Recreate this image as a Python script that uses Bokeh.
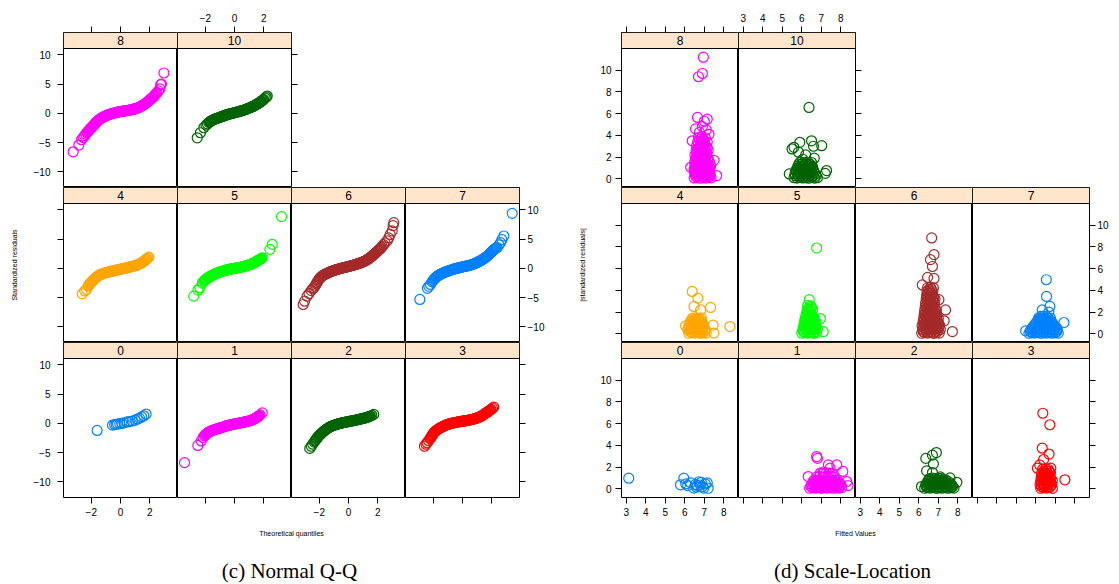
from bokeh.plotting import figure
from bokeh.models import Range1d, LinearAxis, FixedTicker, BoxAnnotation, Label, Spacer
from bokeh.layouts import row, column
from bokeh.embed import file_html
from bokeh.resources import INLINE
from bokeh.core.properties import value

# ---------------- data ----------------
PANEL_KEYS = ["8", "10", "4", "5", "6", "7", "0", "1", "2", "3"]
PANEL_COLORS = {"0": "#0080ff", "1": "#ff00ff", "2": "#006400", "3": "#ff0000", "4": "#ffa500",
                "5": "#00ff00", "6": "#a52a2a", "7": "#0080ff", "8": "#ff00ff", "10": "#006400"}

QQ_X_TICKS = [-2, 0, 2]
QQ_Y_TICKS = [-10, -5, 0, 5, 10]
RS_X_TICKS = [3, 4, 5, 6, 7, 8]
RS_Y_TICKS = [0, 2, 4, 6, 8, 10]

# Normal Q-Q: (theoretical quantile, standardized residual)
QQ_8 = [(-3.24,-6.56),(-2.85,-5.4),(-2.67,-4.5),(-2.55,-4.1),(-2.45,-3.8),(-2.38,-3.55),(-2.3,-3.3),(-2.25,-3.15),
        (-2.2,-3.0),(-2.15,-2.85),(-2.1,-2.7),(-2.05,-2.57),(-2.0,-2.45),(-1.95,-2.32),(-1.9,-2.2),(-1.85,-2.07),
        (-1.8,-1.95),(-1.75,-1.8),(-1.7,-1.65),(-1.65,-1.5),(-1.6,-1.35),(-1.55,-1.25),(-1.5,-1.15),(-1.45,-1.05),
        (-1.4,-0.95),(-1.35,-0.87),(-1.3,-0.8),(-1.25,-0.72),(-1.2,-0.65),(-1.15,-0.57),(-1.1,-0.5),(-1.05,-0.45),
        (-1.0,-0.4),(-0.95,-0.35),(-0.9,-0.3),(-0.85,-0.25),(-0.8,-0.2),(-0.75,-0.16),(-0.7,-0.12),(-0.65,-0.08),
        (-0.6,-0.04),(-0.55,0.0),(-0.5,0.03),(-0.45,0.07),(-0.4,0.1),(-0.35,0.13),(-0.3,0.16),(-0.25,0.19),
        (-0.2,0.22),(-0.15,0.25),(-0.1,0.27),(-0.05,0.3),(0.0,0.32),(0.05,0.34),(0.1,0.36),(0.15,0.38),(0.2,0.4),
        (0.25,0.42),(0.3,0.44),(0.35,0.46),(0.4,0.47),(0.45,0.49),(0.5,0.5),(0.55,0.52),(0.6,0.55),(0.65,0.57),
        (0.7,0.6),(0.75,0.63),(0.8,0.66),(0.85,0.69),(0.9,0.72),(0.95,0.76),(1.0,0.8),(1.05,0.84),(1.1,0.88),
        (1.15,0.92),(1.2,0.97),(1.25,1.02),(1.3,1.08),(1.35,1.14),(1.4,1.2),(1.45,1.27),(1.5,1.35),(1.55,1.42),
        (1.6,1.5),(1.65,1.59),(1.7,1.68),(1.75,1.78),(1.8,1.88),(1.85,1.98),(1.9,2.08),(1.95,2.19),(2.0,2.3),
        (2.05,2.4),(2.1,2.5),(2.15,2.61),(2.2,2.72),(2.25,2.85),(2.3,2.98),(2.35,3.11),(2.4,3.25),(2.45,3.4),
        (2.5,3.55),(2.6,3.85),(2.7,4.2),(2.75,4.9),(2.8,5.0),(2.97,6.9)]
QQ_10 = [(-2.55,-4.17),(-2.33,-3.3),(-2.1,-2.45),(-1.95,-2.0),(-1.85,-1.8),(-1.75,-1.55),(-1.7,-1.45),(-1.65,-1.37),
         (-1.6,-1.3),(-1.55,-1.22),(-1.5,-1.15),(-1.45,-1.08),(-1.4,-1.02),(-1.35,-0.97),(-1.3,-0.92),(-1.25,-0.88),
         (-1.2,-0.84),(-1.15,-0.8),(-1.1,-0.75),(-1.05,-0.7),(-1.0,-0.66),(-0.95,-0.61),(-0.9,-0.57),(-0.85,-0.52),
         (-0.8,-0.48),(-0.75,-0.43),(-0.7,-0.39),(-0.65,-0.34),(-0.6,-0.3),(-0.55,-0.26),(-0.5,-0.22),(-0.45,-0.18),
         (-0.4,-0.14),(-0.35,-0.1),(-0.3,-0.07),(-0.25,-0.03),(-0.2,0.0),(-0.15,0.03),(-0.1,0.06),(-0.05,0.09),
         (0.0,0.12),(0.05,0.15),(0.1,0.18),(0.15,0.21),(0.2,0.25),(0.25,0.28),(0.3,0.32),(0.35,0.35),(0.4,0.39),
         (0.45,0.42),(0.5,0.46),(0.55,0.5),(0.6,0.54),(0.65,0.58),(0.7,0.62),(0.75,0.67),(0.8,0.72),(0.85,0.77),
         (0.9,0.82),(0.95,0.87),(1.0,0.92),(1.05,0.97),(1.1,1.02),(1.15,1.07),(1.2,1.13),(1.25,1.19),(1.3,1.25),
         (1.35,1.31),(1.4,1.38),(1.45,1.45),(1.5,1.52),(1.55,1.59),(1.6,1.67),(1.65,1.75),(1.7,1.83),(1.75,1.91),
         (1.8,2.0),(1.85,2.1),(1.9,2.2),(1.95,2.3),(2.0,2.4),(2.1,2.62),(2.17,2.8),(2.24,2.96)]
QQ_4 = [(-2.62,-4.35),(-2.45,-3.85),(-2.33,-3.6),(-2.2,-3.0),(-2.15,-2.82),(-2.1,-2.65),(-2.05,-2.5),(-2.0,-2.35),
        (-1.95,-2.22),(-1.9,-2.1),(-1.85,-1.97),(-1.8,-1.85),(-1.75,-1.73),(-1.7,-1.62),(-1.65,-1.52),(-1.6,-1.42),
        (-1.55,-1.33),(-1.5,-1.24),(-1.45,-1.16),(-1.4,-1.08),(-1.35,-1.03),(-1.3,-0.98),(-1.25,-0.93),(-1.2,-0.89),
        (-1.15,-0.85),(-1.1,-0.81),(-1.05,-0.77),(-1.0,-0.74),(-0.95,-0.7),(-0.9,-0.67),(-0.85,-0.63),(-0.8,-0.6),
        (-0.75,-0.57),(-0.7,-0.54),(-0.65,-0.51),(-0.6,-0.48),(-0.55,-0.45),(-0.5,-0.42),(-0.45,-0.4),(-0.4,-0.37),
        (-0.35,-0.34),(-0.3,-0.31),(-0.25,-0.28),(-0.2,-0.26),(-0.15,-0.23),(-0.1,-0.2),(-0.05,-0.17),(0.0,-0.14),
        (0.05,-0.11),(0.1,-0.08),(0.15,-0.05),(0.2,-0.02),(0.25,0.01),(0.3,0.04),(0.35,0.07),(0.4,0.1),(0.45,0.13),
        (0.5,0.16),(0.55,0.19),(0.6,0.22),(0.65,0.25),(0.7,0.28),(0.75,0.31),(0.8,0.34),(0.85,0.37),(0.9,0.4),
        (0.95,0.44),(1.0,0.48),(1.05,0.52),(1.1,0.56),(1.15,0.61),(1.2,0.66),(1.25,0.71),(1.3,0.77),(1.35,0.83),
        (1.4,0.89),(1.45,0.97),(1.5,1.05),(1.55,1.13),(1.6,1.22),(1.65,1.32),(1.7,1.42),(1.75,1.52),(1.8,1.62),
        (1.88,1.8),(1.94,1.93)]
QQ_5 = [(-2.79,-4.74),(-2.5,-3.7),(-2.37,-3.3),(-2.2,-2.5),(-2.1,-2.2),(-2.05,-2.06),(-2.0,-1.95),(-1.95,-1.85),
        (-1.9,-1.75),(-1.85,-1.65),(-1.8,-1.57),(-1.75,-1.5),(-1.7,-1.42),(-1.65,-1.35),(-1.6,-1.27),(-1.55,-1.2),
        (-1.5,-1.13),(-1.45,-1.06),(-1.4,-1.01),(-1.35,-0.95),(-1.3,-0.9),(-1.25,-0.85),(-1.2,-0.8),(-1.15,-0.75),
        (-1.1,-0.7),(-1.05,-0.65),(-1.0,-0.61),(-0.95,-0.57),(-0.9,-0.53),(-0.85,-0.49),(-0.8,-0.45),(-0.75,-0.41),
        (-0.7,-0.37),(-0.65,-0.33),(-0.6,-0.3),(-0.55,-0.27),(-0.5,-0.24),(-0.45,-0.21),(-0.4,-0.18),(-0.35,-0.15),
        (-0.3,-0.12),(-0.25,-0.09),(-0.2,-0.07),(-0.15,-0.05),(-0.1,-0.03),(-0.05,-0.01),(0.0,0.0),(0.05,0.03),
        (0.1,0.05),(0.15,0.08),(0.2,0.1),(0.25,0.13),(0.3,0.15),(0.35,0.18),(0.4,0.2),(0.45,0.23),(0.5,0.26),
        (0.55,0.29),(0.6,0.32),(0.65,0.35),(0.7,0.38),(0.75,0.41),(0.8,0.45),(0.85,0.48),(0.9,0.52),(0.95,0.56),
        (1.0,0.6),(1.05,0.65),(1.1,0.7),(1.15,0.76),(1.2,0.82),(1.25,0.88),(1.32,0.96),(1.36,1.01),(1.4,1.07),
        (1.45,1.13),(1.5,1.2),(1.55,1.27),(1.6,1.35),(1.65,1.42),(1.7,1.5),(1.75,1.57),(1.8,1.65),(1.85,1.72),
        (1.9,1.8),(2.42,3.25),(2.58,4.1),(3.22,8.84)]
QQ_6 = [(-3.1,-6.16),(-3.0,-5.6),(-2.83,-4.74),(-2.7,-4.3),(-2.55,-3.8),(-2.45,-3.5),(-2.37,-3.3),(-2.3,-3.05),
        (-2.25,-2.85),(-2.2,-2.62),(-2.15,-2.4),(-2.1,-2.2),(-2.05,-2.0),(-2.0,-1.82),(-1.95,-1.65),(-1.9,-1.52),
        (-1.85,-1.4),(-1.8,-1.3),(-1.75,-1.22),(-1.7,-1.14),(-1.65,-1.06),(-1.6,-0.99),(-1.55,-0.93),(-1.5,-0.87),
        (-1.45,-0.81),(-1.4,-0.75),(-1.35,-0.7),(-1.3,-0.64),(-1.25,-0.59),(-1.2,-0.54),(-1.15,-0.49),(-1.1,-0.44),
        (-1.05,-0.4),(-1.0,-0.35),(-0.95,-0.31),(-0.9,-0.27),(-0.85,-0.23),(-0.8,-0.19),(-0.75,-0.15),(-0.7,-0.11),
        (-0.65,-0.08),(-0.6,-0.04),(-0.55,-0.01),(-0.5,0.03),(-0.45,0.06),(-0.4,0.09),(-0.35,0.12),(-0.3,0.15),
        (-0.25,0.18),(-0.2,0.21),(-0.15,0.24),(-0.1,0.27),(-0.05,0.3),(0.0,0.33),(0.05,0.36),(0.1,0.4),(0.15,0.43),
        (0.2,0.46),(0.25,0.5),(0.3,0.53),(0.35,0.57),(0.4,0.6),(0.45,0.64),(0.5,0.68),(0.55,0.72),(0.6,0.76),
        (0.65,0.8),(0.7,0.84),(0.75,0.89),(0.8,0.93),(0.85,0.98),(0.9,1.03),(0.95,1.08),(1.0,1.13),(1.05,1.19),
        (1.1,1.25),(1.15,1.31),(1.2,1.38),(1.25,1.45),(1.3,1.53),(1.35,1.61),(1.4,1.7),(1.45,1.79),(1.5,1.88),
        (1.55,1.98),(1.6,2.08),(1.65,2.19),(1.7,2.3),(1.75,2.41),(1.8,2.52),(1.85,2.63),(1.9,2.75),(1.95,2.86),
        (2.0,2.98),(2.05,3.09),(2.1,3.2),(2.15,3.3),(2.19,3.4),(2.25,3.58),(2.3,3.75),(2.4,4.05),(2.5,4.35),
        (2.65,4.7),(2.75,5.2),(2.85,5.8),(2.99,6.4),(3.05,7.3),(3.1,7.8)]
QQ_7 = [(-2.92,-5.3),(-2.4,-3.4),(-2.3,-3.05),(-2.19,-2.74),(-2.08,-2.3),(-2.02,-2.08),(-1.96,-1.88),(-1.9,-1.73),
        (-1.85,-1.6),(-1.8,-1.49),(-1.75,-1.38),(-1.7,-1.29),(-1.65,-1.2),(-1.6,-1.12),(-1.55,-1.05),(-1.5,-0.98),
        (-1.45,-0.92),(-1.4,-0.86),(-1.35,-0.8),(-1.3,-0.75),(-1.25,-0.7),(-1.2,-0.65),(-1.15,-0.6),(-1.1,-0.55),
        (-1.05,-0.5),(-1.0,-0.45),(-0.95,-0.41),(-0.9,-0.36),(-0.85,-0.32),(-0.8,-0.28),(-0.75,-0.24),(-0.7,-0.2),
        (-0.65,-0.16),(-0.6,-0.12),(-0.55,-0.09),(-0.5,-0.05),(-0.45,-0.02),(-0.4,0.01),(-0.35,0.05),(-0.3,0.08),
        (-0.25,0.11),(-0.2,0.14),(-0.15,0.17),(-0.1,0.2),(-0.05,0.23),(0.0,0.26),(0.05,0.29),(0.1,0.31),(0.15,0.34),
        (0.2,0.36),(0.25,0.39),(0.3,0.42),(0.35,0.45),(0.4,0.48),(0.45,0.51),(0.5,0.54),(0.55,0.58),(0.6,0.62),
        (0.65,0.66),(0.7,0.7),(0.75,0.75),(0.8,0.8),(0.85,0.85),(0.9,0.9),(0.95,0.96),(1.0,1.02),(1.05,1.08),
        (1.1,1.14),(1.15,1.2),(1.2,1.27),(1.25,1.35),(1.3,1.42),(1.35,1.5),(1.4,1.57),(1.45,1.65),(1.5,1.73),
        (1.55,1.82),(1.6,1.92),(1.65,2.02),(1.69,2.1),(1.75,2.22),(1.8,2.35),(1.85,2.47),(1.9,2.6),(1.95,2.72),
        (2.0,2.85),(2.05,2.97),(2.1,3.1),(2.15,3.2),(2.2,3.3),(2.25,3.4),(2.3,3.5),(2.37,3.55),(2.5,4.0),(2.6,4.4),
        (2.7,4.9),(2.83,5.53),(3.4,9.4)]
QQ_0 = [(-1.6,-1.2),(-0.55,-0.3),(-0.4,-0.2),(-0.3,-0.15),(-0.2,-0.1),(-0.05,-0.05),(0.1,0.0),(0.25,0.1),
        (0.45,0.25),(0.6,0.3),(0.8,0.4),(1.0,0.55),(1.15,0.75),(1.3,0.9),(1.45,1.1),(1.6,1.3),(1.75,1.6)]
QQ_1 = [(-3.42,-6.7),(-2.51,-3.76),(-2.28,-3.0),(-2.15,-2.4),(-2.05,-2.1),(-2.0,-1.97),(-1.95,-1.85),(-1.9,-1.73),
        (-1.85,-1.63),(-1.8,-1.54),(-1.75,-1.47),(-1.7,-1.41),(-1.65,-1.35),(-1.6,-1.29),(-1.55,-1.24),(-1.5,-1.19),
        (-1.45,-1.14),(-1.4,-1.1),(-1.35,-1.06),(-1.3,-1.02),(-1.25,-0.98),(-1.2,-0.94),(-1.15,-0.9),(-1.1,-0.86),
        (-1.05,-0.82),(-1.0,-0.78),(-0.95,-0.74),(-0.9,-0.7),(-0.85,-0.66),(-0.8,-0.62),(-0.75,-0.58),(-0.7,-0.54),
        (-0.65,-0.5),(-0.6,-0.46),(-0.55,-0.42),(-0.5,-0.39),(-0.45,-0.35),(-0.4,-0.32),(-0.35,-0.29),(-0.3,-0.26),
        (-0.25,-0.23),(-0.2,-0.2),(-0.15,-0.18),(-0.1,-0.15),(-0.05,-0.13),(0.0,-0.1),(0.05,-0.08),(0.1,-0.05),
        (0.15,-0.03),(0.2,0.0),(0.25,0.02),(0.3,0.05),(0.35,0.07),(0.4,0.1),(0.45,0.12),(0.5,0.15),(0.55,0.17),
        (0.6,0.2),(0.65,0.22),(0.7,0.25),(0.75,0.28),(0.8,0.31),(0.85,0.34),(0.9,0.37),(0.95,0.4),(1.0,0.43),
        (1.05,0.46),(1.1,0.5),(1.15,0.55),(1.2,0.6),(1.25,0.65),(1.3,0.71),(1.35,0.78),(1.4,0.85),(1.45,0.92),
        (1.5,1.0),(1.55,1.07),(1.6,1.16),(1.65,1.25),(1.7,1.35),(1.75,1.45),(1.9,1.8)]
QQ_2 = [(-2.65,-4.27),(-2.55,-3.9),(-2.45,-3.55),(-2.35,-3.2),(-2.3,-3.02),(-2.25,-2.85),(-2.2,-2.67),(-2.15,-2.5),
        (-2.1,-2.35),(-2.05,-2.2),(-2.0,-2.07),(-1.95,-1.95),(-1.9,-1.83),(-1.85,-1.7),(-1.8,-1.58),(-1.75,-1.47),
        (-1.7,-1.36),(-1.65,-1.26),(-1.6,-1.16),(-1.55,-1.06),(-1.5,-0.97),(-1.45,-0.88),(-1.4,-0.8),(-1.35,-0.72),
        (-1.3,-0.65),(-1.25,-0.58),(-1.2,-0.52),(-1.15,-0.46),(-1.1,-0.41),(-1.05,-0.36),(-1.0,-0.31),(-0.95,-0.27),
        (-0.9,-0.23),(-0.85,-0.19),(-0.8,-0.15),(-0.75,-0.11),(-0.7,-0.08),(-0.65,-0.04),(-0.6,-0.01),(-0.55,0.02),
        (-0.5,0.05),(-0.45,0.08),(-0.4,0.11),(-0.35,0.14),(-0.3,0.17),(-0.25,0.19),(-0.2,0.22),(-0.15,0.24),
        (-0.1,0.27),(-0.05,0.29),(0.0,0.32),(0.05,0.34),(0.1,0.37),(0.15,0.39),(0.2,0.42),(0.25,0.44),(0.3,0.47),
        (0.35,0.49),(0.4,0.52),(0.45,0.54),(0.5,0.57),(0.55,0.59),(0.6,0.62),(0.65,0.65),(0.7,0.68),(0.75,0.71),
        (0.8,0.74),(0.85,0.77),(0.9,0.8),(0.95,0.83),(1.0,0.86),(1.05,0.89),(1.1,0.92),(1.15,0.96),(1.2,1.0),
        (1.25,1.04),(1.3,1.08),(1.35,1.12),(1.4,1.16),(1.45,1.21),(1.5,1.26),(1.6,1.38),(1.73,1.54)]
QQ_3 = [(-2.6,-3.9),(-2.5,-3.55),(-2.42,-3.3),(-2.32,-2.95),(-2.22,-2.6),(-2.17,-2.42),(-2.12,-2.25),(-2.08,-2.07),
        (-2.04,-1.9),(-2.0,-1.75),(-1.96,-1.6),(-1.91,-1.47),(-1.86,-1.35),(-1.81,-1.25),(-1.76,-1.15),(-1.71,-1.06),
        (-1.66,-0.97),(-1.61,-0.89),(-1.56,-0.82),(-1.51,-0.75),(-1.46,-0.68),(-1.41,-0.62),(-1.36,-0.56),
        (-1.31,-0.5),(-1.26,-0.43),(-1.21,-0.37),(-1.16,-0.3),(-1.1,-0.25),(-1.05,-0.2),(-1.0,-0.16),(-0.95,-0.12),
        (-0.9,-0.08),(-0.85,-0.05),(-0.8,-0.01),(-0.75,0.02),(-0.7,0.05),(-0.65,0.08),(-0.6,0.1),(-0.55,0.13),
        (-0.5,0.15),(-0.45,0.18),(-0.4,0.2),(-0.35,0.23),(-0.3,0.25),(-0.25,0.28),(-0.2,0.3),(-0.15,0.32),
        (-0.1,0.34),(-0.05,0.36),(0.0,0.38),(0.05,0.4),(0.1,0.42),(0.15,0.44),(0.2,0.46),(0.25,0.48),(0.3,0.5),
        (0.35,0.52),(0.4,0.55),(0.45,0.57),(0.5,0.6),(0.55,0.62),(0.6,0.65),(0.65,0.68),(0.7,0.71),(0.75,0.74),
        (0.8,0.78),(0.85,0.81),(0.9,0.85),(0.95,0.89),(1.0,0.94),(1.05,0.98),(1.1,1.03),(1.15,1.08),(1.2,1.14),
        (1.25,1.2),(1.3,1.27),(1.35,1.35),(1.4,1.44),(1.46,1.54),(1.51,1.62),(1.56,1.7),(1.61,1.79),(1.66,1.88),
        (1.71,1.96),(1.76,2.05),(1.81,2.13),(1.86,2.22),(1.91,2.31),(1.96,2.4),(2.05,2.6),(2.14,2.78)]

# Scale-Location: (fitted value, |standardized residual|)
RS_8 = [(6.95,11.2),(6.9,9.7),(6.7,9.4),(6.65,5.65),(7.15,5.5),(7.0,5.3),(6.55,4.6),(7.24,4.1),(6.38,3.5),
        (7.5,1.7),(7.63,0.3),(6.3,1.06),(6.9,4.8),(6.75,4.3),(7.1,4.5),
        (6.48,0.08),(6.62,0.12),(6.78,0.05),(6.93,0.1),(7.08,0.06),(7.22,0.14),(7.35,0.09),
        (6.55,0.27),(6.7,0.25),(6.86,0.29),(7.01,0.26),(7.15,0.28),(7.29,0.25),
        (6.52,0.45),(6.68,0.42),(6.84,0.5),(7.0,0.44),(7.16,0.48),(7.3,0.4),
        (6.5,0.63),(6.64,0.61),(6.8,0.66),(6.96,0.62),(7.12,0.64),(7.27,0.6),
        (6.47,0.82),(6.6,0.78),(6.76,0.85),(6.92,0.8),(7.07,0.84),(7.24,0.77),
        (6.5,1.0),(6.65,0.98),(6.82,1.02),(6.97,0.99),(7.13,1.01),(7.28,0.97),
        (6.53,1.15),(6.7,1.2),(6.86,1.12),(7.02,1.18),(7.18,1.14),(7.33,1.2),
        (6.56,1.33),(6.72,1.35),(6.88,1.31),(7.04,1.34),(7.2,1.32),
        (6.5,1.5),(6.64,1.55),(6.8,1.48),(6.95,1.52),(7.12,1.47),(7.26,1.55),
        (6.57,1.68),(6.73,1.7),(6.88,1.66),(7.03,1.69),(7.18,1.67),
        (6.56,1.85),(6.72,1.9),(6.88,1.83),(7.04,1.88),(7.2,1.82),
        (6.6,2.03),(6.76,2.05),(6.92,2.01),(7.08,2.04),
        (6.52,2.2),(6.67,2.25),(6.83,2.18),(6.98,2.22),(7.14,2.2),
        (6.62,2.4),(6.78,2.42),(6.94,2.38),(7.1,2.41),
        (6.58,2.6),(6.74,2.55),(6.9,2.62),(7.06,2.58),(7.2,2.65),
        (6.68,2.8),(6.84,2.82),(7.0,2.78),(7.14,2.81),
        (6.6,3.0),(6.77,2.95),(6.93,3.05),(7.1,3.0),
        (6.7,3.2),(6.86,3.22),(7.02,3.18),
        (6.66,3.4),(6.82,3.35),(7.0,3.42),(7.15,3.38),
        (6.76,3.6),(6.93,3.62),
        (6.7,3.8),(6.88,3.85),(7.05,3.78)]
RS_10 = [(6.37,6.57),(5.9,3.36),(5.6,2.9),(5.5,2.75),(6.5,3.5),(7.02,3.05),(6.6,3.0),(5.83,2.45),(6.2,2.2),
         (7.27,0.76),(5.36,0.45),(6.05,1.8),(6.64,1.9),(7.2,0.5),
         (5.6,0.1),(5.75,0.06),(5.9,0.12),(6.05,0.08),(6.2,0.1),(6.35,0.05),(6.5,0.12),(6.65,0.07),(6.8,0.1),
         (5.68,0.27),(5.83,0.29),(5.98,0.25),(6.13,0.28),(6.28,0.26),(6.43,0.3),(6.58,0.27),(6.73,0.25),
         (5.65,0.45),(5.8,0.42),(5.95,0.48),(6.1,0.44),(6.25,0.47),(6.4,0.41),(6.55,0.46),(6.7,0.43),
         (5.72,0.62),(5.88,0.64),(6.03,0.6),(6.18,0.63),(6.33,0.61),(6.48,0.65),(6.63,0.62),
         (5.7,0.8),(5.85,0.83),(6.0,0.78),(6.15,0.82),(6.3,0.79),(6.45,0.84),(6.6,0.8),
         (5.78,0.97),(5.93,0.99),(6.08,0.95),(6.23,0.98),(6.38,0.96),(6.53,1.0),
         (5.8,1.15),(5.95,1.12),(6.1,1.18),(6.25,1.14),(6.4,1.16),(6.55,1.12),
         (5.85,1.32),(6.0,1.34),(6.15,1.3),(6.3,1.33),(6.45,1.31),
         (5.9,1.5),(6.05,1.47),(6.2,1.52),(6.35,1.48),(6.5,1.5)]
RS_4 = [(6.38,3.9),(6.67,3.29),(7.32,2.43),(6.47,2.52),(8.31,0.67),(6.04,0.74),(7.49,0.06),(7.45,0.8),(6.81,2.2),
        (6.2,0.05),(6.35,0.1),(6.5,0.06),(6.65,0.12),(6.8,0.04),(6.95,0.09),(7.1,0.07),
        (6.28,0.22),(6.43,0.24),(6.58,0.2),(6.73,0.23),(6.88,0.21),(7.03,0.25),
        (6.15,0.4),(6.3,0.44),(6.45,0.38),(6.6,0.42),(6.75,0.4),(6.9,0.45),(7.05,0.39),
        (6.2,0.58),(6.35,0.6),(6.5,0.56),(6.65,0.59),(6.8,0.57),(6.95,0.61),
        (6.22,0.75),(6.37,0.78),(6.52,0.72),(6.67,0.77),(6.82,0.74),(6.97,0.79),
        (6.3,0.93),(6.45,0.95),(6.6,0.91),(6.75,0.94),(6.9,0.92),
        (6.28,1.1),(6.43,1.13),(6.58,1.08),(6.73,1.12),(6.88,1.1),
        (6.35,1.27),(6.5,1.29),(6.65,1.25),(6.8,1.28),
        (6.4,1.45),(6.55,1.48),(6.7,1.43),(6.85,1.47)]
RS_5 = [(6.76,7.9),(6.38,3.14),(7.1,0.2),(6.95,1.4),
        (6.0,0.05),(6.15,0.1),(6.3,0.06),(6.45,0.12),(6.6,0.04),(6.75,0.09),
        (6.08,0.22),(6.23,0.24),(6.38,0.2),(6.53,0.23),(6.68,0.21),
        (6.05,0.4),(6.2,0.44),(6.35,0.38),(6.5,0.42),(6.65,0.4),(6.8,0.45),
        (6.12,0.58),(6.27,0.6),(6.42,0.56),(6.57,0.59),(6.72,0.57),
        (6.1,0.75),(6.25,0.78),(6.4,0.72),(6.55,0.77),(6.7,0.74),
        (6.18,0.93),(6.33,0.95),(6.48,0.91),(6.63,0.94),
        (6.12,1.1),(6.27,1.13),(6.42,1.08),(6.57,1.12),(6.72,1.1),
        (6.2,1.27),(6.35,1.29),(6.5,1.25),(6.65,1.28),
        (6.18,1.45),(6.33,1.48),(6.48,1.43),(6.63,1.47),
        (6.25,1.62),(6.4,1.64),(6.55,1.6),
        (6.22,1.8),(6.37,1.83),(6.52,1.78),
        (6.3,2.0),(6.45,2.02),
        (6.27,2.2),(6.42,2.16),(6.55,2.22),
        (6.37,2.4),(6.5,2.42),
        (6.3,2.6),(6.45,2.57)]
RS_6 = [(6.66,8.83),(6.78,7.29),(6.6,6.83),(6.7,6.2),(7.03,3.14),(7.37,2.2),(7.72,0.21),(7.3,1.2),(6.18,4.5),
        (6.78,5.1),(6.45,5.2),
        (6.15,0.05),(6.3,0.1),(6.45,0.06),(6.6,0.12),(6.75,0.04),(6.9,0.09),(7.05,0.07),
        (6.22,0.22),(6.37,0.24),(6.52,0.2),(6.67,0.23),(6.82,0.21),(6.97,0.25),
        (6.2,0.4),(6.35,0.44),(6.5,0.38),(6.65,0.42),(6.8,0.4),(6.95,0.45),(7.1,0.39),
        (6.25,0.58),(6.4,0.6),(6.55,0.56),(6.7,0.59),(6.85,0.57),(7.0,0.61),
        (6.17,0.75),(6.32,0.78),(6.47,0.72),(6.62,0.77),(6.77,0.74),(6.92,0.79),(7.07,0.76),
        (6.28,0.93),(6.43,0.95),(6.58,0.91),(6.73,0.94),(6.88,0.92),(7.02,0.96),
        (6.22,1.1),(6.37,1.13),(6.52,1.08),(6.67,1.12),(6.82,1.1),(6.97,1.14),
        (6.3,1.27),(6.45,1.29),(6.6,1.25),(6.75,1.28),(6.9,1.26),
        (6.25,1.45),(6.4,1.48),(6.55,1.43),(6.7,1.47),(6.85,1.45),(7.0,1.42),
        (6.33,1.62),(6.48,1.64),(6.63,1.6),(6.78,1.63),(6.93,1.61),
        (6.28,1.8),(6.43,1.83),(6.58,1.78),(6.73,1.82),(6.88,1.8),
        (6.36,1.97),(6.51,1.99),(6.66,1.95),(6.81,1.98),
        (6.3,2.15),(6.45,2.18),(6.6,2.13),(6.75,2.17),(6.9,2.15),
        (6.38,2.32),(6.53,2.34),(6.68,2.3),(6.83,2.33),
        (6.33,2.5),(6.48,2.53),(6.63,2.48),(6.78,2.52),
        (6.42,2.67),(6.57,2.69),(6.72,2.65),
        (6.35,2.85),(6.5,2.88),(6.65,2.83),(6.8,2.87),
        (6.43,3.02),(6.58,3.04),(6.73,3.0),
        (6.38,3.2),(6.53,3.23),(6.68,3.18),(6.83,3.22),
        (6.46,3.37),(6.61,3.39),(6.76,3.35),
        (6.4,3.55),(6.55,3.58),(6.7,3.53),
        (6.48,3.72),(6.63,3.74),
        (6.42,3.9),(6.57,3.93),(6.72,3.88),
        (6.5,4.07),(6.65,4.09),
        (6.45,4.25),(6.6,4.28),(6.75,4.23)]
RS_7 = [(6.54,4.98),(6.55,3.44),(6.72,2.52),(7.44,1.04),(5.48,0.27),(7.1,0.35),(6.33,2.2),(6.67,2.0),
        (5.65,0.05),(5.8,0.1),(5.95,0.06),(6.1,0.12),(6.25,0.04),(6.4,0.09),(6.55,0.07),(6.7,0.11),(6.85,0.05),
        (7.0,0.1),(7.15,0.06),
        (5.72,0.22),(5.87,0.24),(6.02,0.2),(6.17,0.23),(6.32,0.21),(6.47,0.25),(6.62,0.22),(6.77,0.2),(6.92,0.24),
        (7.07,0.21),
        (5.75,0.4),(5.9,0.44),(6.05,0.38),(6.2,0.42),(6.35,0.4),(6.5,0.45),(6.65,0.39),(6.8,0.43),(6.95,0.41),
        (7.1,0.44),
        (5.83,0.58),(5.98,0.6),(6.13,0.56),(6.28,0.59),(6.43,0.57),(6.58,0.61),(6.73,0.58),(6.88,0.56),(7.03,0.6),
        (5.9,0.75),(6.05,0.78),(6.2,0.72),(6.35,0.77),(6.5,0.74),(6.65,0.79),(6.8,0.76),(6.95,0.73),
        (5.98,0.93),(6.13,0.95),(6.28,0.91),(6.43,0.94),(6.58,0.92),(6.73,0.96),(6.88,0.93),
        (6.05,1.1),(6.2,1.13),(6.35,1.08),(6.5,1.12),(6.65,1.1),(6.8,1.14),
        (6.12,1.27),(6.27,1.29),(6.42,1.25),(6.57,1.28),(6.72,1.26),
        (6.15,1.45),(6.3,1.48),(6.45,1.43),(6.6,1.47),(6.75,1.45),
        (6.25,1.6),(6.4,1.62),(6.55,1.58)]
RS_0 = [(3.13,0.98),(5.78,0.37),(5.95,0.98),(6.05,0.45),(6.15,0.3),(6.3,0.55),(6.46,0.06),(6.55,0.4),(6.64,0.3),
        (6.72,0.65),(6.8,0.35),(6.9,0.2),(6.97,0.06),(7.05,0.45),(7.15,0.55),(7.2,0.05),(6.6,0.15),(6.85,0.6)]
RS_1 = [(6.76,2.97),(6.8,2.8),(7.36,2.2),(7.79,2.2),(8.1,1.6),(6.33,1.13),(8.3,0.67),(7.45,1.9),(7.1,1.55),
        (8.37,0.3),
        (6.4,0.05),(6.55,0.1),(6.7,0.06),(6.85,0.12),(7.0,0.04),(7.15,0.09),(7.3,0.07),(7.45,0.11),(7.6,0.05),
        (7.75,0.1),(7.9,0.06),(8.05,0.12),
        (6.47,0.22),(6.62,0.24),(6.77,0.2),(6.92,0.23),(7.07,0.21),(7.22,0.25),(7.37,0.22),(7.52,0.2),(7.67,0.24),
        (7.82,0.21),(7.97,0.23),
        (6.5,0.4),(6.65,0.44),(6.8,0.38),(6.95,0.42),(7.1,0.4),(7.25,0.45),(7.4,0.39),(7.55,0.43),(7.7,0.41),
        (7.85,0.44),(8.0,0.38),
        (6.57,0.58),(6.72,0.6),(6.87,0.56),(7.02,0.59),(7.17,0.57),(7.32,0.61),(7.47,0.58),(7.62,0.56),(7.77,0.6),
        (7.92,0.57),
        (6.6,0.75),(6.75,0.78),(6.9,0.72),(7.05,0.77),(7.2,0.74),(7.35,0.79),(7.5,0.76),(7.65,0.73),(7.8,0.77),
        (6.75,1.1),(6.9,1.13),(7.05,1.08),(7.2,1.12),(7.35,1.1),(7.5,1.14),(7.65,1.09),
        (6.95,1.45),(7.1,1.42),(7.25,1.47),(7.4,1.44),(7.55,1.4)]
RS_2 = [(6.9,3.34),(6.7,3.1),(6.36,2.8),(6.75,2.3),(6.4,1.65),(6.7,1.5),(6.14,0.21),(7.95,0.6),(7.6,1.0),(7.1,1.1),
        (6.3,0.05),(6.45,0.1),(6.6,0.06),(6.75,0.12),(6.9,0.04),(7.05,0.09),(7.2,0.07),(7.35,0.11),(7.5,0.05),
        (7.65,0.1),(7.8,0.06),
        (6.38,0.2),(6.53,0.22),(6.68,0.18),(6.83,0.21),(6.98,0.19),(7.13,0.23),(7.28,0.2),(7.43,0.18),(7.58,0.22),
        (7.73,0.19),
        (6.35,0.35),(6.5,0.38),(6.65,0.33),(6.8,0.37),(6.95,0.35),(7.1,0.39),(7.25,0.34),(7.4,0.37),(7.55,0.36),
        (7.7,0.33),
        (6.42,0.5),(6.57,0.52),(6.72,0.48),(6.87,0.51),(7.02,0.49),(7.17,0.53),(7.32,0.5),(7.47,0.48),(7.62,0.51),
        (6.45,0.65),(6.6,0.68),(6.75,0.63),(6.9,0.67),(7.05,0.65),(7.2,0.69),(7.35,0.64),(7.5,0.66),
        (6.5,0.8),(6.65,0.82),(6.8,0.78),(6.95,0.81),(7.1,0.79),(7.25,0.83),(7.4,0.8),
        (6.55,0.95),(6.7,0.98),(6.85,0.93),(7.0,0.97),(7.15,0.95)]
RS_3 = [(6.36,6.96),(6.72,5.9),(6.33,3.74),(6.68,3.2),(7.49,0.83),(6.4,2.7),(6.08,1.9),(6.77,1.9),(6.2,2.2),
        (6.25,0.05),(6.4,0.1),(6.55,0.06),(6.7,0.12),(6.85,0.04),
        (6.3,0.22),(6.45,0.24),(6.6,0.2),(6.75,0.23),
        (6.22,0.4),(6.37,0.44),(6.52,0.38),(6.67,0.42),(6.82,0.4),
        (6.3,0.58),(6.45,0.6),(6.6,0.56),(6.75,0.59),
        (6.25,0.75),(6.4,0.78),(6.55,0.72),(6.7,0.77),(6.85,0.74),
        (6.32,0.93),(6.47,0.95),(6.62,0.91),(6.77,0.94),
        (6.28,1.1),(6.43,1.13),(6.58,1.08),(6.73,1.12),
        (6.37,1.27),(6.52,1.29),(6.67,1.25),
        (6.3,1.45),(6.45,1.48),(6.6,1.43),(6.75,1.47),
        (6.4,1.62),(6.55,1.64),(6.7,1.6),
        (6.35,1.8),(6.5,1.83),(6.65,1.78)]

QQ_DATA = {"8": QQ_8, "10": QQ_10, "4": QQ_4, "5": QQ_5, "6": QQ_6, "7": QQ_7,
           "0": QQ_0, "1": QQ_1, "2": QQ_2, "3": QQ_3}
RS_DATA = {"8": RS_8, "10": RS_10, "4": RS_4, "5": RS_5, "6": RS_6, "7": RS_7,
           "0": RS_0, "1": RS_1, "2": RS_2, "3": RS_3}

# ---------------- layout / style ----------------
GRID = [["8", "10"], ["4", "5", "6", "7"], ["0", "1", "2", "3"]]
STRIP_H = 16
PANEL_H = 139
FRAME_H = STRIP_H + PANEL_H
TOP_B = 32
BOTTOM_B = 30
TOTAL_W = 1119
TOTAL_H = 584
SPLIT_X = 570
FONT = "Liberation Sans"
MINUS = "\u2212"

BLOCKS = [
    dict(data=QQ_DATA, xr=(-3.9, 3.9), yr=(-12.65, 11.08), fw=114, left=63, right=51, start=0,
         end=SPLIT_X, xticks=QQ_X_TICKS, yticks=QQ_Y_TICKS, ylabel="Standardized residuals",
         ylab_standoff=40, left_standoff=7),
    dict(data=RS_DATA, xr=(2.76, 8.75), yr=(-0.8, 12.0), fw=117, left=51, right=30, start=SPLIT_X,
         end=TOTAL_W, xticks=RS_X_TICKS, yticks=RS_Y_TICKS, ylabel="|standardized residuals|",
         ylab_standoff=30, left_standoff=4),
]


def overrides(ticks):
    return {t: (MINUS + str(abs(t)) if t < 0 else str(t)) for t in ticks}


def add_axis(fig, side, ticks, show, standoff, label=None, label_standoff=0):
    ax = LinearAxis(ticker=FixedTicker(ticks=ticks, minor_ticks=[]),
                    major_tick_in=0, major_tick_out=6, minor_tick_in=0, minor_tick_out=0,
                    axis_line_color=None, major_tick_line_color="black", major_tick_line_width=1,
                    major_label_text_font=FONT, major_label_text_font_size="10px",
                    major_label_text_color="black" if show else None,
                    major_label_overrides=overrides(ticks), major_label_standoff=standoff)
    if label:
        ax.axis_label = label
        ax.axis_label_text_font = FONT
        ax.axis_label_text_font_size = "7px"
        ax.axis_label_text_font_style = "normal"
        ax.axis_label_text_color = "black"
        ax.axis_label_standoff = label_standoff
    fig.add_layout(ax, side)


def make_panel(cfg, key, r, c):
    y0, y1 = cfg["yr"]
    strip_top = y1 + (y1 - y0) * STRIP_H / PANEL_H
    left = cfg["left"] if c == 0 else 0
    right = 0
    if c == 3:
        right = cfg["right"]
    elif r == 0 and c == 1:
        right = 30
    top = TOP_B if r == 0 else 0
    bottom = BOTTOM_B if r == 2 else 0
    f = figure(width=left + cfg["fw"] + right, height=top + FRAME_H + bottom,
               x_range=Range1d(*cfg["xr"]), y_range=Range1d(y0, strip_top),
               x_axis_type=None, y_axis_type=None, toolbar_location=None,
               output_backend="svg", min_border=0, min_border_left=left,
               min_border_right=right, min_border_top=top, min_border_bottom=bottom,
               outline_line_color="black", outline_line_width=1,
               background_fill_color="white", border_fill_color="white")
    pts = cfg["data"][key]
    f.scatter(x=[p[0] for p in pts], y=[p[1] for p in pts], marker="circle", size=10,
              fill_color=None, line_color=PANEL_COLORS[key], line_width=1.2)
    f.add_layout(BoxAnnotation(bottom=y1, fill_color="#ffe5cc", fill_alpha=1.0,
                               line_color="black", line_alpha=1.0, line_width=1))
    xm = (cfg["xr"][0] + cfg["xr"][1]) / 2
    f.add_layout(Label(x=xm, y=(y1 + strip_top) / 2, text=key, text_align="center",
                       text_baseline="middle", text_font=FONT, text_font_size="12px",
                       text_color="black"))
    # axes, lattice "alternating" style
    if c == 0:
        if r == 1:
            add_axis(f, "left", cfg["yticks"], False, cfg["left_standoff"],
                     label=cfg["ylabel"], label_standoff=cfg["ylab_standoff"])
        else:
            add_axis(f, "left", cfg["yticks"], True, cfg["left_standoff"])
    if r == 0:
        add_axis(f, "above", cfg["xticks"], c == 1, 5)
    if r == 2:
        add_axis(f, "below", cfg["xticks"], c in (0, 2), 4)
    if (r == 0 and c == 1) or (r == 2 and c == 3):
        add_axis(f, "right", cfg["yticks"], False, 2)
    if r == 1 and c == 3:
        add_axis(f, "right", cfg["yticks"], True, 2)
    return f


row_items = [[], [], []]
for cfg in BLOCKS:
    for r, keys in enumerate(GRID):
        used = 0
        for c, key in enumerate(keys):
            f = make_panel(cfg, key, r, c)
            row_items[r].append(f)
            used += f.width
        gap = (cfg["end"] - cfg["start"]) - used
        if gap > 0:
            row_items[r].append(Spacer(width=gap, height=row_items[r][-1].height))

rows = [row(items, spacing=0) for items in row_items]

lab_top = TOP_B + 3 * FRAME_H + BOTTOM_B
lab = figure(width=TOTAL_W, height=TOTAL_H - lab_top,
             x_range=Range1d(0, TOTAL_W), y_range=Range1d(TOTAL_H, lab_top),
             x_axis_type=None, y_axis_type=None, toolbar_location=None, output_backend="svg",
             min_border=0, outline_line_color=None, background_fill_color="white",
             border_fill_color="white")
lab.text(x=[291, 855], y=[532.5, 532.5], text=["Theoretical quantiles", "Fitted Values"],
         text_align="center", text_baseline="middle", text_font=value(FONT),
         text_font_size=value("7px"), text_color="black")
lab.text(x=[289, 852], y=[570, 570], text=["(c) Normal Q-Q", "(d) Scale-Location"],
         text_align="center", text_baseline="middle", text_font=value("Liberation Serif"),
         text_font_size=value("21px"), text_color="black")

layout = column(rows + [lab], spacing=0)

open("out.html", "w").write(file_html(layout, INLINE))
